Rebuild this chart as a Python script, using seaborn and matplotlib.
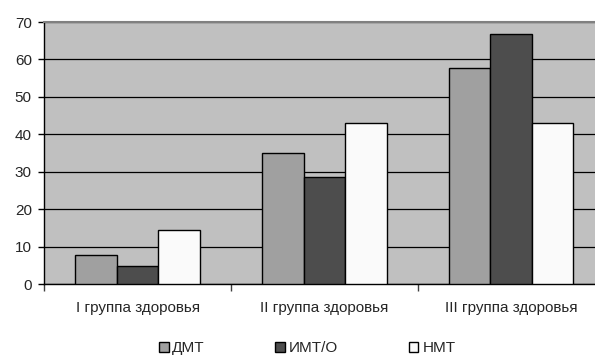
import matplotlib
matplotlib.use("Agg")
import matplotlib.pyplot as plt
from matplotlib.ticker import FixedLocator
import seaborn as sns
import pandas as pd

groups = ["I группа здоровья", "II группа здоровья", "III группа здоровья"]
series = ["ДМТ", "ИМТ/О", "НМТ"]
dmt = [7.7, 35.0, 57.7]
imt_o = [4.8, 28.6, 66.7]
nmt = [14.3, 42.9, 42.9]
colors = ["#A0A0A0", "#4D4D4D", "#FAFAFA"]

rows = []
for name, vals in zip(series, [dmt, imt_o, nmt]):
    for g, v in zip(groups, vals):
        rows.append({"group": g, "series": name, "value": v})
df = pd.DataFrame(rows)

sns.set_theme(style="white")
plt.rcParams["font.family"] = ["Liberation Sans", "DejaVu Sans"]

fig = plt.figure(figsize=(5.95, 3.62), dpi=100)
ax = fig.add_axes([44.3 / 595, 78 / 362, 560 / 595, 262 / 362])
ax.set_facecolor("#C0C0C0")

sns.barplot(data=df, x="group", y="value", hue="series", order=groups,
            hue_order=series, palette=colors, width=2 / 3, gap=0,
            edgecolor="black", linewidth=1.0, saturation=1, ax=ax, zorder=3)

ax.set_ylim(0, 70)
ax.set_xlim(-0.5, 2.5)
ax.set_yticks(range(0, 71, 10))
ax.yaxis.grid(True, color="black", linewidth=0.9, zorder=1)
ax.set_axisbelow(True)
ax.set_xlabel("")
ax.set_ylabel("")

ax.tick_params(axis="y", which="major", direction="out", length=4, width=1,
               color="black", labelsize=11, pad=5, left=True)
ax.tick_params(axis="x", which="major", length=0, labelsize=11, pad=12)
ax.xaxis.set_minor_locator(FixedLocator([-0.5, 0.5, 1.5, 2.5]))
ax.tick_params(axis="x", which="minor", direction="out", length=5, width=1,
               color="#404040", bottom=True)

for side in ["left", "bottom"]:
    ax.spines[side].set_color("black")
    ax.spines[side].set_linewidth(1.0)
ax.spines["top"].set_color("#808080")
ax.spines["top"].set_linewidth(1.5)
ax.spines["right"].set_visible(False)

handles, labels = ax.get_legend_handles_labels()
ax.legend_.remove()
fig.legend(handles, labels, loc="center", bbox_to_anchor=(0.516, 14 / 362),
           ncol=3, frameon=False, fontsize=11, handlelength=0.65,
           handleheight=0.65, handletextpad=0.25, columnspacing=4.6)

fig.savefig("out.png", dpi=100)
